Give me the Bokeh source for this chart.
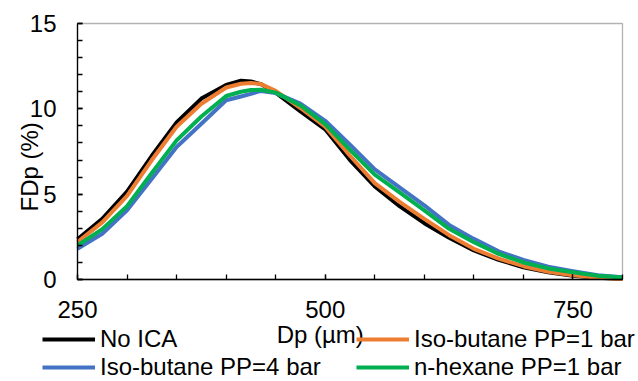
import math
from bokeh.plotting import figure
from bokeh.models import Range1d, FixedTicker, Legend, LegendItem, Label, BoxAnnotation
from bokeh.embed import file_html
from bokeh.resources import INLINE

# ---- data ----
dp = [250, 275, 300, 325, 350, 375, 400, 415, 425, 435, 450, 475, 500, 525,
      550, 575, 600, 625, 650, 675, 700, 725, 750, 775, 800]
no_ica = [2.35, 3.55, 5.15, 7.25, 9.2, 10.6, 11.4, 11.65, 11.6, 11.45, 10.95, 9.85, 8.8, 7.0,
          5.45, 4.3, 3.3, 2.45, 1.7, 1.15, 0.72, 0.42, 0.22, 0.1, 0.04]
iso_1bar = [2.2, 3.35, 4.9, 7.0, 8.95, 10.3, 11.25, 11.47, 11.52, 11.45, 11.05, 10.05, 8.95, 7.25,
            5.65, 4.55, 3.55, 2.6, 1.8, 1.22, 0.78, 0.45, 0.25, 0.1, 0.03]
iso_4bar = [1.8, 2.68, 4.05, 5.9, 7.76, 9.13, 10.5, 10.72, 10.88, 11.05, 10.92, 10.3, 9.3, 7.9,
            6.45, 5.4, 4.35, 3.2, 2.38, 1.65, 1.15, 0.75, 0.49, 0.25, 0.13]
hex_1bar = [2.0, 2.95, 4.3, 6.25, 8.15, 9.55, 10.75, 11.0, 11.1, 11.12, 10.95, 10.2, 9.1, 7.6,
            6.15, 5.1, 4.05, 2.97, 2.18, 1.5, 1.0, 0.65, 0.42, 0.22, 0.12]

series_names = ["No ICA", "Iso-butane PP=1 bar", "Iso-butane PP=4 bar", "n-hexane PP=1 bar"]
series_colors = ["#000000", "#ED7D31", "#4472C4", "#00B050"]
series_values = [no_ica, iso_1bar, iso_4bar, hex_1bar]

x_major = [250, 500, 750]
x_minor = list(range(250, 801, 50))
y_major = [0, 5, 10, 15]
y_minor = list(range(0, 16))
x_lo, x_hi = 250, 800
y_lo, y_hi = 0, 15

FONT = "Liberation Sans"
FS = "24px"

W, H = 638, 381
# plot-area placement inside the canvas (pixels)
PL, PR, PT, PB = 77, 622, 23, 279
sx = (PR - PL) / (x_hi - x_lo)
sy = (PB - PT) / (y_hi - y_lo)
xr = Range1d(x_lo - PL / sx, x_lo + (W - PL) / sx)
yr = Range1d(y_lo - (H - PB) / sy, y_hi + PT / sy)

p = figure(width=W, height=H, output_backend="svg", toolbar_location=None,
           x_range=xr, y_range=yr, min_border=0,
           min_border_left=0, min_border_right=0, min_border_top=0, min_border_bottom=0)
p.grid.visible = False
p.background_fill_color = "white"
p.border_fill_color = "white"
p.outline_line_color = None

renderers = []
for name, col, vals in zip(series_names, series_colors, series_values):
    r = p.line(dp, vals, line_color=col, line_width=4, line_join="round")
    renderers.append(r)

p.add_layout(BoxAnnotation(left=x_lo, right=x_hi, bottom=y_lo, top=y_hi,
                           fill_alpha=0, line_color="black", line_width=1.3))

xa, ya = p.xaxis[0], p.yaxis[0]
xa.fixed_location = y_lo
ya.fixed_location = x_lo
xa.bounds = (x_lo, x_hi)
ya.bounds = (y_lo, y_hi)
for ax in (xa, ya):
    ax.axis_line_color = "black"
    ax.axis_line_width = 1.3
    ax.major_tick_in = 5
    ax.major_tick_out = 0
    ax.minor_tick_in = 5
    ax.minor_tick_out = 0
    ax.major_tick_line_color = "black"
    ax.minor_tick_line_color = "black"
    ax.major_tick_line_width = 1.3
    ax.minor_tick_line_width = 1.3
    ax.major_label_text_font = FONT
    ax.major_label_text_font_size = FS
    ax.major_label_text_color = "black"

xa.ticker = FixedTicker(ticks=x_major, minor_ticks=x_minor)
ya.ticker = FixedTicker(ticks=y_major, minor_ticks=y_minor)
xa.major_label_standoff = 21
ya.major_label_standoff = 21

xlab = Label(x=495, y=-3.23, text="Dp (µm)", text_font=FONT, text_font_size=FS,
             text_align="center", text_baseline="alphabetic", text_color="black")
ylab = Label(x=201.6, y=6.6, text="FDp (%)", text_font=FONT, text_font_size=FS,
             text_align="center", text_baseline="alphabetic", text_color="black",
             angle=math.pi / 2)
p.add_layout(xlab)
p.add_layout(ylab)

items = [LegendItem(label=n, renderers=[r]) for n, r in zip(series_names, renderers)]
legend = Legend(items=items, location=(42, 0), orientation="horizontal", ncols=2,
                glyph_width=53, glyph_height=20, label_standoff=5, label_width=256,
                spacing=-2, padding=0, margin=0,
                label_text_font=FONT, label_text_font_size=FS, label_text_color="black",
                border_line_alpha=0, background_fill_alpha=0)
p.add_layout(legend, "center")

open("out.html", "w").write(file_html(p, INLINE))
